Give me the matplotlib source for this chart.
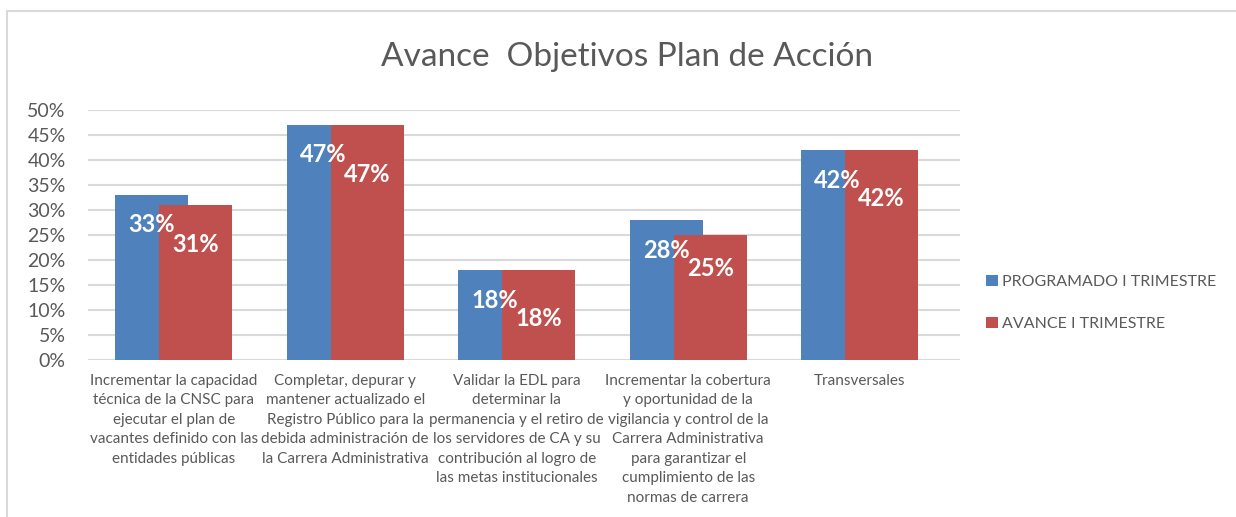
import numpy as np
import matplotlib
matplotlib.use('Agg')
import matplotlib.pyplot as plt
from matplotlib.patches import Rectangle

plt.rcParams['font.family'] = ['Lato', 'DejaVu Sans']

categories = [
    'Incrementar la capacidad\ntécnica de la CNSC para\nejecutar el plan de\nvacantes definido con las\nentidades públicas',
    'Completar, depurar y\nmantener actualizado el\nRegistro Público para la\ndebida administración de\nla Carrera Administrativa',
    'Validar la EDL para\ndeterminar la\npermanencia y el retiro de\nlos servidores de CA y su\ncontribución al logro de\nlas metas institucionales',
    'Incrementar la cobertura\ny oportunidad de la\nvigilancia y control de la\nCarrera Administrativa\npara garantizar el\ncumplimiento de las\nnormas de carrera',
    'Transversales',
]
programado = [0.33, 0.47, 0.18, 0.28, 0.42]
avance = [0.31, 0.47, 0.18, 0.25, 0.42]
series_names = ['PROGRAMADO I TRIMESTRE', 'AVANCE I TRIMESTRE']
yticks = [0.0, 0.05, 0.10, 0.15, 0.20, 0.25, 0.30, 0.35, 0.40, 0.45, 0.50]

blue = '#4F81BD'
red = '#C0504D'
grey_txt = '#595959'

fig = plt.figure(figsize=(12.36, 5.17), dpi=100)
# outer chart frame
fig.patches.append(Rectangle((7/1236, -0.1), 1.2, 1 - 11/517 + 0.1,
                             transform=fig.transFigure, fill=False,
                             edgecolor='#D9D9D9', lw=1.5))

ax = fig.add_axes([88/1236, 1 - 360/517, 872/1236, 250/517])

x = np.arange(len(categories)) + 0.5
w = 0.426
off = 0.128

for t in yticks:
    ax.axhline(t, color='#D9D9D9', lw=1.5, zorder=0)

b1 = ax.bar(x - off, programado, w, color=blue, zorder=2, label=series_names[0])
b2 = ax.bar(x + off, avance, w, color=red, zorder=3, label=series_names[1])

for i in range(len(categories)):
    yb = programado[i] - 0.06
    yr = min(avance[i] - 0.06, yb - 0.038)
    ax.text(x[i] - off, yb, '%d%%' % round(programado[i] * 100), color='white',
            fontsize=17, fontweight='bold', ha='center', va='center', zorder=5)
    ax.text(x[i] + off, yr, '%d%%' % round(avance[i] * 100), color='white',
            fontsize=17, fontweight='bold', ha='center', va='center', zorder=5)

ax.set_xlim(0, 5.085)
ax.set_ylim(0, 0.5)
ax.set_yticks(yticks)
ax.set_yticklabels(['%d%%' % round(t * 100) for t in yticks], fontsize=14, color=grey_txt)
ax.set_xticks(x)
ax.set_xticklabels(categories, fontsize=11, color=grey_txt, linespacing=1.5, va='top')
ax.tick_params(axis='both', length=0)
ax.tick_params(axis='x', pad=10)
ax.tick_params(axis='y', pad=16)
for s in ax.spines.values():
    s.set_visible(False)

fig.text(627/1236, 1 - 57/517, 'Avance  Objetivos Plan de Acción', fontsize=24,
         color=grey_txt, ha='center', va='center')

ax.legend(handles=[b1, b2], loc='center left', bbox_to_anchor=(972/1236, 1 - 303/517),
          bbox_transform=fig.transFigure, frameon=False, fontsize=11.5,
          labelcolor=grey_txt, handlelength=0.7, handleheight=0.7,
          handletextpad=0.3, labelspacing=1.7)

plt.savefig('out.png', dpi=100)
